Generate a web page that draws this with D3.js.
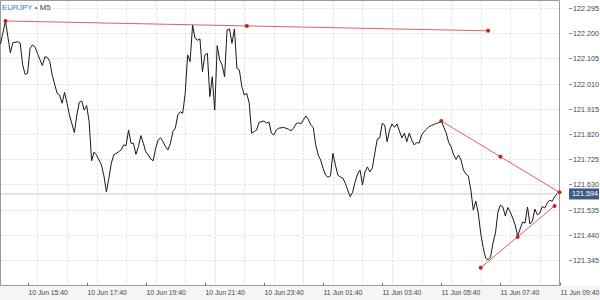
<!DOCTYPE html>
<html><head><meta charset="utf-8">
<script src="https://cdn.jsdelivr.net/npm/d3@7"></script>
<style>
body{margin:0;background:#fff}
svg{display:block;font-family:"Liberation Sans",Arial,sans-serif}
</style>
</head><body>
<svg id="c" width="600" height="300"></svg>
<script>
const symbol = "EURJPY";
const timeframe = "M5";
const startTime = "2020-06-10T14:45";
const endTime = "2020-06-11T09:40";
const barMinutes = 5;
const bars = [0,2,4,5,7,8,9,10,11,12,13,14,15,17,18,19,20,21,23,24,25,26,27,28,30,31,32,33,34,35,36,37,38,39,41,42,43,44,45,46,48,49,50,51,52,53,54,55,56,57,58,59,60,61,62,63,64,65,66,67,68,69,70,71,72,73,74,75,76,77,78,79,80,81,82,83,84,85,86,87,88,89,90,91,92,93,94,95,96,97,98,99,100,101,102,103,104,105,107,108,109,110,111,112,113,115,117,118,119,120,121,122,123,124,125,126,127,128,129,130,131,132,133,134,135,136,137,138,139,140,141,142,143,144,145,146,147,148,149,150,151,152,153,154,155,156,157,158,159,160,161,162,163,164,165,166,167,168,169,170,171,172,173,174,175,176,177,178,179,180,181,182,183,184,185,186,187,188,189,190,191,192,193,194,195,196,197,198,199,200,201,202,203,204,205,206,207,208,209,210,211,212,213,214,215,216,217,218,219,220,221,222,223,224,225,226];
const closes = [122.159,122.246,122.126,122.164,122.168,122.163,122.080,122.045,122.049,122.143,122.156,122.149,122.124,122.078,122.111,122.109,122.093,122.042,121.973,121.967,121.936,121.977,121.936,121.892,121.825,121.892,121.940,121.944,121.910,121.927,121.866,121.719,121.752,121.741,121.703,121.662,121.602,121.653,121.710,121.741,121.753,121.760,121.779,121.776,121.835,121.785,121.785,121.743,121.772,121.814,121.785,121.753,121.741,121.726,121.719,121.766,121.797,121.806,121.791,121.772,121.760,121.785,121.829,121.842,121.892,121.904,121.898,121.973,122.118,122.093,122.231,122.181,122.174,122.178,122.055,122.118,122.124,121.961,122.036,121.910,122.153,122.099,122.080,122.036,122.212,122.216,122.162,122.216,122.068,122.061,121.998,121.967,121.973,121.936,121.823,121.829,121.835,121.864,121.869,121.861,121.866,121.823,121.816,121.835,121.842,121.845,121.838,121.832,121.842,121.858,121.863,121.858,121.873,121.888,121.875,121.854,121.845,121.779,121.741,121.722,121.690,121.665,121.657,121.662,121.747,121.703,121.665,121.658,121.654,121.635,121.609,121.584,121.601,121.639,121.669,121.684,121.628,121.677,121.696,121.677,121.692,121.748,121.801,121.805,121.860,121.854,121.791,121.835,121.858,121.845,121.858,121.831,121.805,121.823,121.791,121.824,121.797,121.779,121.787,121.786,121.816,121.829,121.838,121.848,121.852,121.856,121.860,121.863,121.869,121.846,121.824,121.788,121.771,121.741,121.724,121.741,121.722,121.684,121.669,121.662,121.609,121.533,121.567,121.522,121.446,121.392,121.352,121.346,121.356,121.409,121.447,121.526,121.552,121.545,121.511,121.543,121.526,121.503,121.477,121.435,121.462,121.488,121.484,121.545,121.481,121.492,121.537,121.515,121.522,121.547,121.541,121.560,121.571,121.566,121.583,121.594];
const yTicks = [122.295,122.200,122.105,122.010,121.915,121.820,121.725,121.630,121.535,121.440,121.345];
const xTickTimes = ["2020-06-10T15:40","2020-06-10T17:40","2020-06-10T19:40","2020-06-10T21:40","2020-06-10T23:40","2020-06-11T01:40","2020-06-11T03:40","2020-06-11T05:40","2020-06-11T07:40","2020-06-11T09:40"];
const lastPrice = 121.594;
const trendTop = [[2,122.246],[100,122.227],[198,122.209]];
const trendUpper = [[179,121.869],[203,121.734],[227,121.600]];
const trendLower = [[195,121.316],[210,121.432],[225,121.549]];

const parse = d3.timeParse("%Y-%m-%dT%H:%M");
const t0 = parse(startTime), t1 = parse(endTime);
const barTime = b => d3.timeMinute.offset(t0, b * barMinutes);

const W = 600, H = 300;
const plotL = 0.5, plotR = 559.5, plotT = 0.5, plotB = 285.5;
const svg = d3.select("#c");

const x = d3.scaleTime().domain([t0, t1]).range([plotL, plotR]);
const y = d3.scaleLinear().domain([121.345, 122.295]).range([260, 8]);

// bottom band
svg.append("rect").attr("x",0).attr("y",plotB).attr("width",W).attr("height",H-plotB).attr("fill","#f5f5f5");
svg.append("rect").attr("x",plotL).attr("y",plotT).attr("width",plotR-plotL).attr("height",plotB-plotT).attr("fill","#fff");

// grid
const grid = svg.append("g");
yTicks.forEach(v => {
  grid.append("line").attr("x1",plotL).attr("x2",plotR).attr("y1",Math.round(y(v))+0.5).attr("y2",Math.round(y(v))+0.5)
    .attr("stroke","#dcdcdc").attr("stroke-dasharray","2,2");
});
const hourLines = d3.timeMinute.every(60).range(parse(xTickTimes[0]), d3.timeMinute.offset(t1,1));
hourLines.forEach(t => {
  const xx = Math.round(x(t)) + 0.5;
  grid.append("line").attr("x1",xx).attr("x2",xx).attr("y1",plotT).attr("y2",plotB)
    .attr("stroke","#dcdcdc").attr("stroke-dasharray","2,2");
});

// current price line
svg.append("line").attr("x1",plotL).attr("x2",plotR).attr("y1",y(lastPrice)).attr("y2",y(lastPrice))
  .attr("stroke","#d4d4d4").attr("stroke-width",1.2);

// border
svg.append("path").attr("d",`M${plotL},${plotB}V${plotT}H${plotR}V${plotB}H${plotL}`)
  .attr("fill","none").attr("stroke","#9a9a9a");

// price line
const pts = bars.map((b,i) => ({t: barTime(b), v: closes[i]}));
svg.append("path").datum(pts)
  .attr("d", d3.line().x(d => x(d.t)).y(d => y(d.v)))
  .attr("fill","none").attr("stroke","#1a1a1a").attr("stroke-width",1).attr("stroke-linejoin","round");

// trend lines
[trendTop, trendUpper, trendLower].forEach(tl => {
  const p = tl.map(d => ({t: barTime(d[0]), v: d[1]}));
  svg.append("line").attr("x1",x(p[0].t)).attr("y1",y(p[0].v)).attr("x2",x(p[2].t)).attr("y2",y(p[2].v))
    .attr("stroke","#e0625c").attr("stroke-width",1);
  svg.selectAll(null).data(p).enter().append("circle")
    .attr("cx",d => x(d.t)).attr("cy",d => y(d.v)).attr("r",2).attr("fill","#c81e1e");
});

// y axis labels
const yAx = svg.append("g");
yTicks.forEach(v => {
  const yy = Math.round(y(v)) + 0.5;
  yAx.append("line").attr("x1",569).attr("x2",572).attr("y1",yy).attr("y2",yy).attr("stroke","#888");
  yAx.append("text").attr("x",573).attr("y",yy).attr("dy","0.35em")
    .attr("font-size",7.2).attr("fill","#444").text(d3.format(".3f")(v));
});
// last price box
const ly = y(lastPrice);
svg.append("rect").attr("x",569).attr("y",ly-5.5).attr("width",30).attr("height",11).attr("fill","#3b5b86");
svg.append("text").attr("x",572).attr("y",ly).attr("dy","0.35em").attr("font-size",7.2).attr("fill","#fff")
  .text(d3.format(".3f")(lastPrice));

// x axis labels
const fmt = d3.timeFormat("%-d %b %H:%M");
xTickTimes.forEach(s => {
  const t = parse(s); const xx = Math.round(x(t)) + 0.5;
  svg.append("line").attr("x1",xx).attr("x2",xx).attr("y1",plotB-3).attr("y2",plotB).attr("stroke","#777");
  svg.append("text").attr("x",xx).attr("y",295).attr("font-size",6.8).attr("fill","#444").text(fmt(t));
});

// title
const title = svg.append("text").attr("x",2).attr("y",10).attr("font-size",7.8);
title.append("tspan").attr("fill","#4a7fd6").text(symbol);
title.append("tspan").attr("fill","#666").text(" \u2022 ");
title.append("tspan").attr("fill","#444").text(timeframe);
</script>
</body></html>
